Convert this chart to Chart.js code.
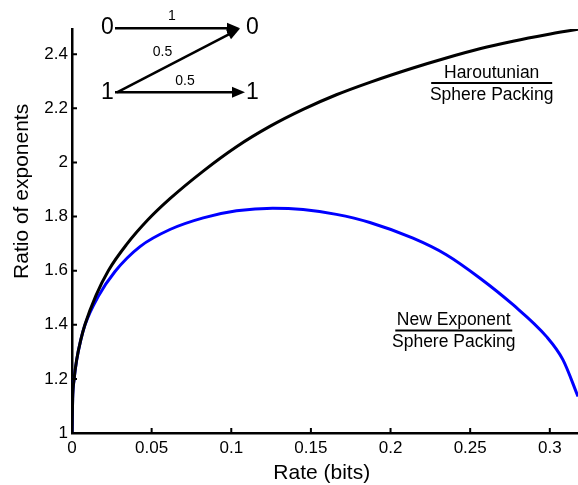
<!DOCTYPE html>
<html>
<head>
<meta charset="utf-8">
<script src="https://cdn.jsdelivr.net/npm/chart.js@4/dist/chart.umd.min.js"></script>
<style>
html,body{margin:0;padding:0;background:#fff;overflow:hidden;}
canvas{display:block;}
</style>
</head>
<body>
<canvas id="c" width="578" height="485"></canvas>
<script>
// ---- data ----
const xTicks = [0, 0.05, 0.1, 0.15, 0.2, 0.25, 0.3];
const yTicks = [1, 1.2, 1.4, 1.6, 1.8, 2, 2.2, 2.4];

const rateHaroutunian  = [0, 0.0004, 0.0013, 0.003, 0.0055, 0.0082, 0.015, 0.0228, 0.0343, 0.0475, 0.0615, 0.0824, 0.1033, 0.1242, 0.1451, 0.166, 0.187, 0.2141, 0.235, 0.256, 0.2769, 0.2978, 0.3177];
const ratioHaroutunian = [1, 1.126, 1.198, 1.273, 1.344, 1.402, 1.508, 1.6, 1.697, 1.787, 1.866, 1.968, 2.058, 2.133, 2.196, 2.25, 2.296, 2.349, 2.386, 2.42, 2.448, 2.472, 2.492];

const rateNewExp  = [0, 0.0004, 0.0013, 0.003, 0.0055, 0.0082, 0.0165, 0.027, 0.0427, 0.0615, 0.0824, 0.1033, 0.126, 0.1451, 0.166, 0.187, 0.2141, 0.235, 0.256, 0.2769, 0.2978, 0.3082, 0.3177];
const ratioNewExp = [1, 1.126, 1.197, 1.272, 1.343, 1.4, 1.505, 1.597, 1.689, 1.752, 1.795, 1.821, 1.831, 1.826, 1.808, 1.778, 1.72, 1.659, 1.573, 1.474, 1.357, 1.271, 1.135];

const xLabel = 'Rate (bits)';
const yLabel = 'Ratio of exponents';
const FONT = '"Liberation Sans", Arial, sans-serif';

function pts(xs, ys){ return xs.map((x,i)=>({x:x, y:ys[i]})); }

const overlay = {
  id: 'overlay',
  afterDraw(chart){
    const ctx = chart.ctx, xs = chart.scales.x, ys = chart.scales.y, ca = chart.chartArea;
    ctx.save();
    ctx.strokeStyle = '#000'; ctx.fillStyle = '#000';
    // inward tick marks
    ctx.lineWidth = 2;
    ctx.beginPath();
    xs.ticks.forEach(t=>{ const p = xs.getPixelForValue(t.value); ctx.moveTo(p, ca.bottom); ctx.lineTo(p, ca.bottom-5); });
    ys.ticks.forEach(t=>{ const p = ys.getPixelForValue(t.value); ctx.moveTo(ca.left, p); ctx.lineTo(ca.left+5, p); });
    ctx.stroke();

    // axis titles
    ctx.font = '21px ' + FONT;
    ctx.textAlign = 'center'; ctx.textBaseline = 'middle';
    ctx.fillText(xLabel, xs.getPixelForValue(0.1568), chart.height - 12);
    ctx.save();
    ctx.translate(22, ys.getPixelForValue(1.893));
    ctx.rotate(-Math.PI/2);
    ctx.fillText(yLabel, 0, 0);
    ctx.restore();

    // fraction annotations
    function frac(num, den, xv, yv, w){
      const cx = xs.getPixelForValue(xv), ly = ys.getPixelForValue(yv);
      ctx.font = '17.5px ' + FONT;
      ctx.textAlign = 'center'; ctx.textBaseline = 'alphabetic';
      ctx.fillText(num, cx, ly - 5);
      ctx.fillText(den, cx, ly + 17);
      ctx.lineWidth = 2;
      ctx.beginPath(); ctx.moveTo(cx - w/2, ly); ctx.lineTo(cx + w/2, ly); ctx.stroke();
    }
    frac('Haroutunian', 'Sphere Packing', 0.2635, 2.293, 121);
    frac('New Exponent', 'Sphere Packing', 0.2397, 1.379, 117);

    // Z-channel inset (layout relative to chart area's top-left)
    const ox = ca.left, oy = ca.top;
    function arrow(x1,y1,x2,y2){
      const a = Math.atan2(y2-y1, x2-x1), L = 13, H = 5.5;
      ctx.lineWidth = 2.5;
      ctx.beginPath(); ctx.moveTo(x1,y1); ctx.lineTo(x2 - L*Math.cos(a)*0.8, y2 - L*Math.sin(a)*0.8); ctx.stroke();
      ctx.beginPath();
      ctx.moveTo(x2,y2);
      ctx.lineTo(x2 - L*Math.cos(a) + H*Math.sin(a), y2 - L*Math.sin(a) - H*Math.cos(a));
      ctx.lineTo(x2 - L*Math.cos(a) - H*Math.sin(a), y2 - L*Math.sin(a) + H*Math.cos(a));
      ctx.closePath(); ctx.fill();
    }
    ctx.font = '23px ' + FONT;
    ctx.textAlign = 'center'; ctx.textBaseline = 'middle';
    ctx.fillText('0', ox + 35.5, oy - 1);
    ctx.fillText('0', ox + 180.5, oy - 1);
    ctx.fillText('1', ox + 35.5, oy + 64);
    ctx.fillText('1', ox + 180.5, oy + 64);
    arrow(ox + 43, oy - 0.7, ox + 168, oy - 0.7);
    arrow(ox + 45, oy + 63.3, ox + 168, oy - 0.5);
    arrow(ox + 43, oy + 63.3, ox + 173, oy + 63.3);
    ctx.font = '14px ' + FONT;
    ctx.fillText('1', ox + 100, oy - 13);
    ctx.fillText('0.5', ox + 90.5, oy + 22.7);
    ctx.fillText('0.5', ox + 113, oy + 52);
    ctx.restore();
  }
};

new Chart(document.getElementById('c'), {
  type: 'line',
  data: {
    datasets: [
      { label: 'Haroutunian / Sphere Packing', data: pts(rateHaroutunian, ratioHaroutunian),
        borderColor: '#000000', borderWidth: 3, pointRadius: 0, fill: false, cubicInterpolationMode: 'monotone' },
      { label: 'New Exponent / Sphere Packing', data: pts(rateNewExp, ratioNewExp),
        borderColor: '#0000ff', borderWidth: 3, pointRadius: 0, fill: false, cubicInterpolationMode: 'monotone' }
    ]
  },
  options: {
    responsive: false,
    animation: false,
    devicePixelRatio: 1,
    layout: { padding: { top: 29, right: 0, left: 0, bottom: 0 } },
    plugins: { legend: { display: false }, tooltip: { enabled: false } },
    scales: {
      x: {
        type: 'linear', min: 0, max: 0.3177,
        afterBuildTicks(s){ s.ticks = xTicks.map(v=>({value:v})); },
        afterFit(s){ s.height = 52; },
        grid: { display: false, drawTicks: false },
        border: { display: true, color: '#000', width: 2.5 },
        ticks: { color: '#000', font: { family: FONT, size: 17 }, padding: 5, maxRotation: 0,
                 callback: v => String(+v.toFixed(2)) }
      },
      y: {
        type: 'linear', min: 1, max: 2.493,
        afterBuildTicks(s){ s.ticks = yTicks.map(v=>({value:v})); },
        afterFit(s){ s.width = 72; },
        grid: { display: false, drawTicks: false },
        border: { display: true, color: '#000', width: 2.5 },
        ticks: { color: '#000', font: { family: FONT, size: 17 }, padding: 4,
                 callback: v => String(+v.toFixed(2)) }
      }
    }
  },
  plugins: [overlay]
});
</script>
</body>
</html>
